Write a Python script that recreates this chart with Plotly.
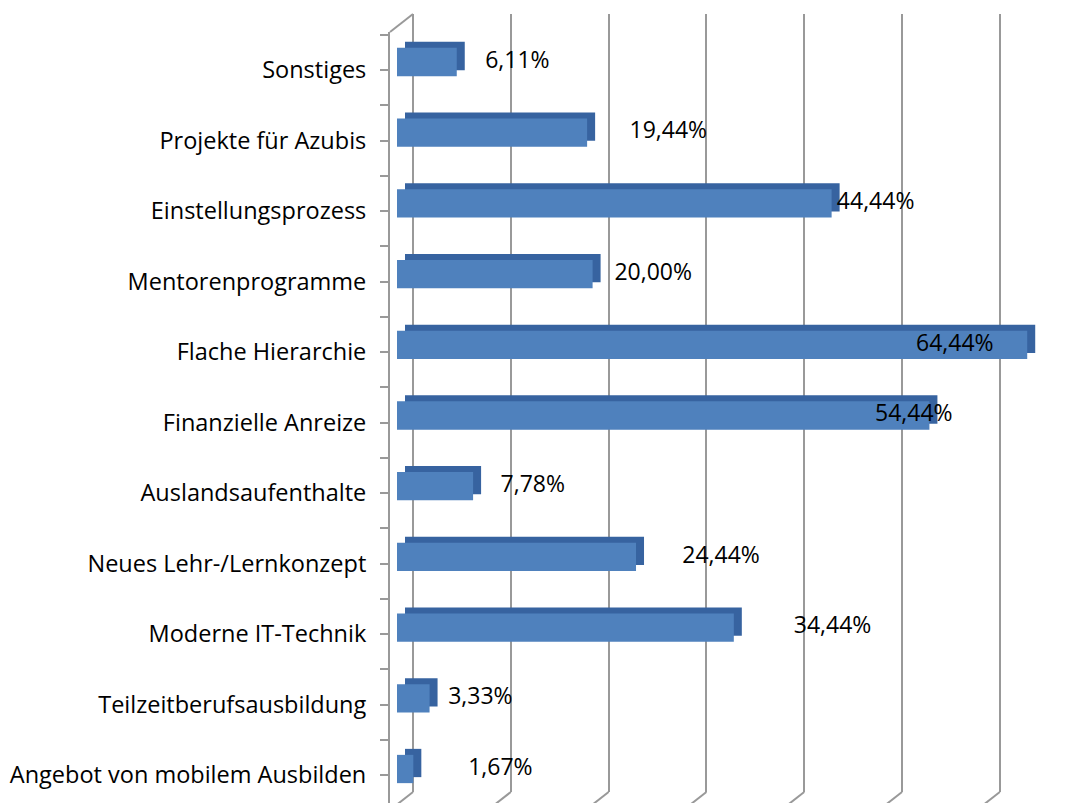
import plotly.graph_objects as go

# Categories listed bottom to top
CATEGORIES = [
    'Angebot von mobilem Ausbilden',
    'Teilzeitberufsausbildung',
    'Moderne IT-Technik',
    'Neues Lehr-/Lernkonzept',
    'Auslandsaufenthalte',
    'Finanzielle Anreize',
    'Flache Hierarchie',
    'Mentorenprogramme',
    'Einstellungsprozess',
    'Projekte für Azubis',
    'Sonstiges',
]
SHARES = [1.67, 3.33, 34.44, 24.44, 7.78, 54.44, 64.44, 20.00, 44.44, 19.44, 6.11]

# per-bar nudge of the value label (in % units), like Excel's 3D label placement
LABEL_NUDGE = [8.9, 5.2, 10.1, 8.7, 6.1, -1.6, -7.4, 6.2, 4.5, 8.3, 6.2]

WIN_W, WIN_H = 1086, 803
PAGE_PAD = 8  # default body margin of the html page
W, H = WIN_W - PAGE_PAD, WIN_H - PAGE_PAD
PX_PER_PCT = 9.78
GRID_COLOR = '#999999'
FRONT = '#4F81BD'
DEPTH = '#3763A0'
FONT = 'Open Sans, Carlito, Calibri, sans-serif'


def fx(px):
    # window pixel -> paper fraction
    return (px - PAGE_PAD) / W


def fy(px):
    return 1 - (px - PAGE_PAD) / H


def cat_range(center0, step, top_px, bottom_px):
    # category-index range that puts index 0 at window pixel center0
    return [(center0 - bottom_px) / step, (center0 - top_px) / step]


labels = [f'{v:.2f}'.replace('.', ',') + '%' for v in SHARES]

fig = go.Figure()

# hidden trace so the back wall subplot exists
fig.add_trace(go.Scatter(x=[None], y=[None], xaxis='x', yaxis='y',
                         showlegend=False, hoverinfo='skip'))

# depth (top/side faces) of the 3D bars
fig.add_trace(go.Bar(
    x=SHARES, y=CATEGORIES, orientation='h', xaxis='x2', yaxis='y2',
    marker=dict(color=DEPTH, line=dict(width=0)), width=0.4,
    showlegend=False, hoverinfo='skip'
))

# front faces
fig.add_trace(go.Bar(
    x=SHARES, y=CATEGORIES, orientation='h', xaxis='x3', yaxis='y3',
    marker=dict(color=FRONT, line=dict(width=0)), width=0.4,
    showlegend=False,
    hovertemplate='%{y}: %{x:.2f}%<extra></extra>'
))

# value labels
fig.add_trace(go.Scatter(
    x=[v + n for v, n in zip(SHARES, LABEL_NUDGE)], y=CATEGORIES,
    xaxis='x3', yaxis='y3', mode='text', text=labels,
    textposition='middle center',
    textfont=dict(family=FONT, size=23, color='#000000'),
    cliponaxis=False, showlegend=False, hoverinfo='skip'
))

# hidden trace for the front category axis
fig.add_trace(go.Scatter(x=[None], y=[None], xaxis='x4', yaxis='y4',
                         showlegend=False, hoverinfo='skip'))

hidden = dict(visible=False, fixedrange=True)

fig.update_layout(
    width=W, height=H,
    margin=dict(l=0, r=0, t=0, b=0),
    paper_bgcolor='white',
    plot_bgcolor='rgba(0,0,0,0)',
    # back wall with gridlines
    xaxis=dict(domain=[fx(413), 1], range=[0, (WIN_W - 413) / PX_PER_PCT],
               anchor='y', showgrid=True, gridcolor=GRID_COLOR, gridwidth=2,
               tick0=0, dtick=10, showticklabels=False, ticks='',
               zeroline=True, zerolinecolor=GRID_COLOR, zerolinewidth=2,
               showline=False, fixedrange=True),
    yaxis=dict(domain=[fy(792), fy(14)], anchor='x', range=[0, 1],
               visible=False, fixedrange=True),
    # depth layer
    xaxis2=dict(domain=[fx(405), 1], range=[0, (WIN_W - 405) / PX_PER_PCT],
                anchor='y2', **hidden),
    yaxis2=dict(domain=[0, 1], anchor='x2', type='category',
                categoryorder='array', categoryarray=CATEGORIES,
                range=cat_range(763, 70.7, PAGE_PAD, WIN_H), **hidden),
    # front layer
    xaxis3=dict(domain=[fx(397), 1], range=[0, (WIN_W - 397) / PX_PER_PCT],
                anchor='y3', **hidden),
    yaxis3=dict(domain=[0, 1], anchor='x3', type='category',
                categoryorder='array', categoryarray=CATEGORIES,
                range=cat_range(769, 70.7, PAGE_PAD, WIN_H), **hidden),
    # category axis in front
    xaxis4=dict(domain=[fx(390), 1], range=[0, 1], anchor='y4', **hidden),
    yaxis4=dict(domain=[0, fy(32)], anchor='x4', type='linear',
                range=cat_range(775, 70.5, 32, WIN_H),
                tickvals=list(range(len(CATEGORIES))), ticktext=CATEGORIES,
                ticks='outside', ticklen=8, tickwidth=2, tickcolor=GRID_COLOR,
                minor=dict(tick0=0.5, dtick=1, ticks='outside', ticklen=8,
                           tickwidth=2, tickcolor=GRID_COLOR),
                showline=True, linecolor=GRID_COLOR, linewidth=2,
                showgrid=False, zeroline=False, ticklabelstandoff=9,
                tickfont=dict(family=FONT, size=23.5, color='#000000'),
                fixedrange=True),
)

# 3D frame edges: top-left corner and floor lines
shapes = [dict(type='line', xref='paper', yref='paper',
               x0=fx(390), y0=fy(32), x1=fx(413), y1=fy(14),
               line=dict(color=GRID_COLOR, width=2))]
for g in range(0, 80, 10):
    gx = 413 + g * PX_PER_PCT
    shapes.append(dict(type='line', xref='paper', yref='paper',
                       x0=fx(gx), y0=fy(792), x1=fx(gx - 23), y1=fy(810),
                       line=dict(color=GRID_COLOR, width=2)))
fig.update_layout(shapes=shapes)

fig.write_html('out.html')
